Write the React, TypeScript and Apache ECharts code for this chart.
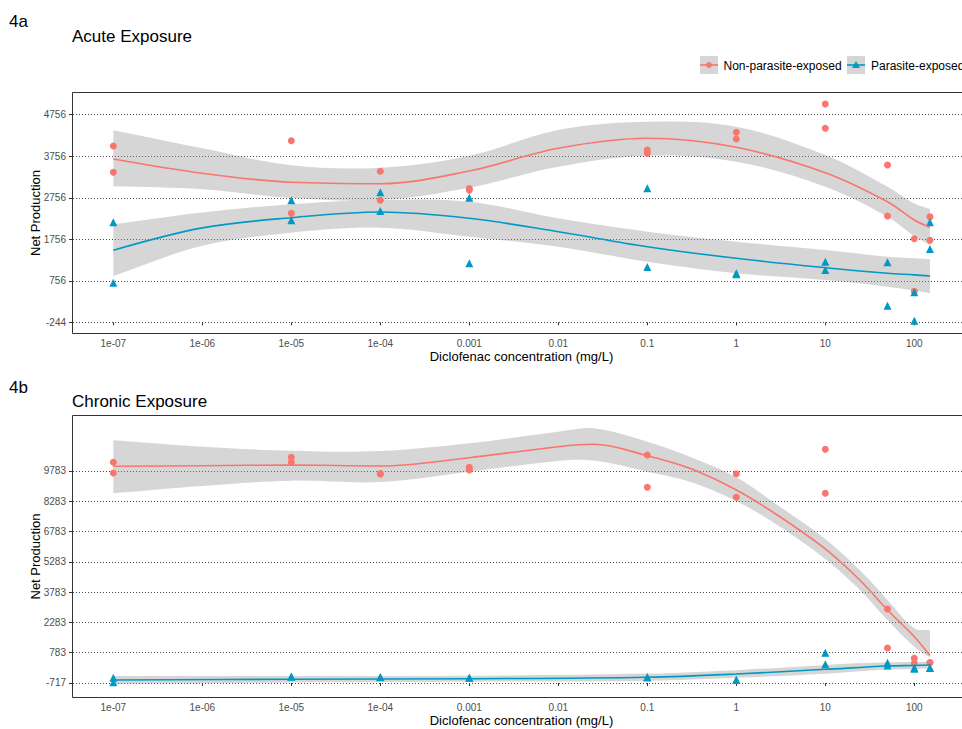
import React, { useEffect, useRef } from "react";
import * as echarts from "echarts";

// ---------- data ----------
const concentrations = [1e-7, 1e-5, 1e-4, 1e-3, 0.1, 1, 10, 50, 100, 150];

const acuteNonParasiteA = [4002, 4130, 3393, 2980, 3906, 4332, 5014, 3545, 1770, 2300];
const acuteNonParasiteB = [3369, 2382, 2695, 2940, 3826, 4171, 4428, 2317, 503, 1732];
const acuteParasiteA = [2165, 2695, 2887, 2757, 2984, 940, 1216, 1202, 480, 2165];
const acuteParasiteB = [711, 2213, 2437, 1178, 1089, 915, 1016, 157, -204, 1522];

const chronicNonParasiteA = [10214, 10462, 9650, 9966, 10575, 9650, 10858, 2948, 506, 288];
const chronicNonParasiteB = [9684, 10214, 9640, 9833, 8975, 8480, 8678, 1016, 258, 300];
const chronicParasiteA = [-454, -405, -420, -454, -420, -569, 783, 288, -9, 26];
const chronicParasiteB = [-683, -400, -430, -460, -440, -560, 209, 150, 40, 30];

// smooth fits
const acuteCurveX = [1e-7, 1e-6, 1e-5, 1e-4, 1e-3, 1e-2, 0.1, 1, 10, 50, 100, 150];
const acuteNonFit = [3689, 3345, 3128, 3094, 3400, 3947, 4188, 3971, 3360, 2661, 2220, 2045];
const acuteNonUpper = [4380, 3947, 3538, 3480, 3769, 4388, 4587, 4467, 3786, 3022, 2620, 2485];
const acuteNonLower = [3032, 2960, 2750, 2702, 2998, 3504, 3769, 3624, 3022, 2300, 1830, 1619];
const acuteParFit = [1491, 2030, 2276, 2413, 2261, 1939, 1578, 1298, 1072, 937, 900, 872];
const acuteParUpper = [2117, 2400, 2598, 2702, 2661, 2261, 1939, 1698, 1498, 1337, 1300, 1274];
const acuteParLower = [872, 1600, 1915, 2035, 1818, 1578, 1216, 937, 776, 615, 520, 455];

const chronicNonX = [1e-7, 1e-6, 1e-5, 1e-4, 1e-3, 1e-2, 0.025, 0.1, 0.3, 1, 3, 10, 25, 50, 100, 150];
const chronicNonFit = [10016, 10046, 10080, 10031, 10442, 10987, 11105, 10541, 9917, 8842, 7554, 5920, 4335, 2898, 1576, 650];
const chronicNonUpper = [11304, 10987, 10788, 10774, 11155, 11730, 11898, 11234, 10491, 9471, 8050, 6420, 4830, 3394, 1992, 1900];
const chronicNonLower = [8678, 9040, 9303, 9238, 9750, 10278, 10300, 9750, 9253, 8297, 7060, 5420, 3840, 2403, 1081, 540];

const chronicParX = [1e-7, 1e-5, 1e-3, 0.1, 1, 10, 50, 100, 150];
const chronicParFit = [-570, -530, -505, -430, -272, -40, 125, 150, 174];
const chronicParUpper = [-370, -370, -355, -250, -82, 180, 305, 320, 339];
const chronicParLower = [-770, -690, -655, -610, -462, -260, -55, -20, 9];

// tick labels
const xTickExponents = [-7, -6, -5, -4, -3, -2, -1, 0, 1, 2];
const xTickLabels = ["1e-07", "1e-06", "1e-05", "1e-04", "0.001", "0.01", "0.1", "1", "10", "100"];
const acuteYTicks = [-244, 756, 1756, 2756, 3756, 4756];
const chronicYTicks = [-717, 783, 2283, 3783, 5283, 6783, 8283, 9783];

const seriesNames = ["Non-parasite-exposed", "Parasite-exposed"];
const panelLabels = ["4a", "4b"];
const panelTitles = ["Acute Exposure", "Chronic Exposure"];
const xTitle = "Diclofenac concentration (mg/L)";
const yTitle = "Net Production";

// ---------- styles / layout ----------
const FONT = '"Liberation Sans", Arial, Helvetica, sans-serif';
const RED = "#F8766D";
const TEAL = "#0099C4";
const BAND = "rgba(153,153,153,0.4)";
const X_MIN_EXP = -7.453;
const X_MAX_EXP = 2.626;
const GRID_LEFT = 73;
const GRID_WIDTH = 897;

function pairs(xs: number[], ys: number[]) {
  return xs.map((x, i) => [x, ys[i]]);
}

function bandSeries(xIdx: number, yIdx: number, xs: number[], upper: number[], lower: number[]) {
  return {
    type: "custom",
    xAxisIndex: xIdx,
    yAxisIndex: yIdx,
    silent: true,
    data: [[xs[0], upper[0]]],
    renderItem: (_params: any, api: any) => {
      const up = xs.map((x, i) => api.coord([x, upper[i]]));
      const lo = xs.map((x, i) => api.coord([x, lower[i]])).reverse();
      const pts: number[][] = [];
      up.forEach((p: number[], i: number) => {
        pts.push(p);
        if (i === 0 || i === up.length - 1) pts.push([p[0], p[1]]);
      });
      lo.forEach((p: number[], i: number) => {
        pts.push(p);
        if (i === 0 || i === lo.length - 1) pts.push([p[0], p[1]]);
      });
      return {
        type: "polygon",
        shape: { points: pts, smooth: 0.35 },
        style: { fill: BAND, stroke: "none" },
      };
    },
  };
}

function lineSeries(xIdx: number, yIdx: number, xs: number[], ys: number[], color: string) {
  return {
    type: "line",
    xAxisIndex: xIdx,
    yAxisIndex: yIdx,
    data: pairs(xs, ys),
    smooth: 0.35,
    showSymbol: false,
    silent: true,
    lineStyle: { color, width: 1.6 },
  };
}

function scatterSeries(xIdx: number, yIdx: number, ysA: number[], ysB: number[], color: string, symbol: string, size: number) {
  return {
    type: "scatter",
    xAxisIndex: xIdx,
    yAxisIndex: yIdx,
    symbol,
    symbolSize: size,
    silent: true,
    itemStyle: { color, opacity: 1 },
    data: [...pairs(concentrations, ysA), ...pairs(concentrations, ysB)],
  };
}

function buildOption() {
  const panels = [
    { top: 93, height: 240, yMin: -501, yMax: 5279, ticks: acuteYTicks, step: 1000, split: 6 },
    { top: 416, height: 281, yMin: -1411, yMax: 12507, ticks: chronicYTicks, step: 1500, split: 9 },
  ];

  const grid: any[] = [];
  const xAxis: any[] = [];
  const yAxis: any[] = [];
  const borders: any[] = [];

  panels.forEach((p, g) => {
    grid.push({
      left: GRID_LEFT,
      top: p.top,
      width: GRID_WIDTH,
      height: p.height,
      show: false,
      outerBoundsMode: "none",
      containLabel: false,
    });
    borders.push({
      type: "rect",
      silent: true,
      z: 100,
      shape: { x: GRID_LEFT - 0.5, y: p.top - 0.5, width: GRID_WIDTH + 1, height: p.height + 1 },
      style: { fill: "none", stroke: "#333", lineWidth: 1 },
    });
    // data axes (hidden)
    xAxis.push({
      gridIndex: g,
      type: "log",
      logBase: 10,
      show: false,
      position: "top",
      min: Math.pow(10, X_MIN_EXP),
      max: Math.pow(10, X_MAX_EXP),
    });
    // tick axes (visible)
    xAxis.push({
      gridIndex: g,
      type: "value",
      position: "bottom",
      min: X_MIN_EXP,
      max: X_MAX_EXP,
      splitNumber: 10,
      name: xTitle,
      nameLocation: "middle",
      nameGap: 17,
      nameMoveOverlap: false,
      nameTextStyle: { fontFamily: FONT, fontSize: 13, color: "#000" },
      axisLine: { show: false },
      axisTick: { show: true, length: 3, lineStyle: { color: "#333" }, customValues: xTickExponents },
      splitLine: { show: false },
      axisLabel: {
        margin: 5,
        fontFamily: FONT,
        fontSize: 10,
        color: "#4d4d4d",
        formatter: (v: number) => {
          const r = Math.round(v);
          if (Math.abs(v - r) > 1e-6) return "";
          const k = xTickExponents.indexOf(r);
          return k >= 0 ? xTickLabels[k] : "";
        },
      },
    });
    yAxis.push({
      gridIndex: g,
      type: "value",
      show: false,
      position: "right",
      min: p.yMin,
      max: p.yMax,
    });
    const ticks = p.ticks;
    const tickIdx = ticks.map((_t, i) => i);
    yAxis.push({
      gridIndex: g,
      type: "value",
      position: "left",
      min: (p.yMin - ticks[0]) / p.step,
      max: (p.yMax - ticks[0]) / p.step,
      splitNumber: p.split,
      name: yTitle,
      nameLocation: "middle",
      nameGap: 31,
      nameMoveOverlap: false,
      nameTextStyle: { fontFamily: FONT, fontSize: 13, color: "#000" },
      axisLine: { show: false },
      axisTick: { show: true, length: 4, lineStyle: { color: "#333" }, customValues: tickIdx },
      splitLine: { show: true, lineStyle: { color: "#444", width: 1, type: [1, 2] } },
      axisLabel: {
        margin: 7,
        fontFamily: FONT,
        fontSize: 10,
        color: "#4d4d4d",
        formatter: (v: number) => {
          const r = Math.round(v);
          if (Math.abs(v - r) > 1e-6) return "";
          return r >= 0 && r < ticks.length ? String(ticks[r]) : "";
        },
      },
    });
  });

  const series: any[] = [
    // panel a
    scatterSeries(0, 0, acuteNonParasiteA, acuteNonParasiteB, RED, "circle", 7),
    scatterSeries(0, 0, acuteParasiteA, acuteParasiteB, TEAL, "triangle", 8),
    bandSeries(0, 0, acuteCurveX, acuteNonUpper, acuteNonLower),
    bandSeries(0, 0, acuteCurveX, acuteParUpper, acuteParLower),
    lineSeries(0, 0, acuteCurveX, acuteNonFit, RED),
    lineSeries(0, 0, acuteCurveX, acuteParFit, TEAL),
    // panel b
    scatterSeries(2, 2, chronicNonParasiteA, chronicNonParasiteB, RED, "circle", 7),
    scatterSeries(2, 2, chronicParasiteA, chronicParasiteB, TEAL, "triangle", 8),
    bandSeries(2, 2, chronicNonX, chronicNonUpper, chronicNonLower),
    bandSeries(2, 2, chronicParX, chronicParUpper, chronicParLower),
    lineSeries(2, 2, chronicNonX, chronicNonFit, RED),
    lineSeries(2, 2, chronicParX, chronicParFit, TEAL),
  ];

  const txt = (text: string, x: number, y: number, size: number) => ({
    type: "text",
    x,
    y,
    silent: true,
    style: { text, fontFamily: FONT, fontSize: size, fill: "#000", verticalAlign: "middle", align: "left" },
  });

  const graphic: any[] = [
    ...borders,
    txt(panelLabels[0], 9, 21.5, 17),
    txt(panelTitles[0], 72, 36, 17),
    txt(panelLabels[1], 9, 387, 17),
    txt(panelTitles[1], 72, 401.5, 17),
    // legend
    { type: "rect", silent: true, shape: { x: 700, y: 56, width: 18, height: 18 }, style: { fill: "#d6d6d6" } },
    { type: "line", silent: true, shape: { x1: 700, y1: 65, x2: 718, y2: 65 }, style: { stroke: RED, lineWidth: 1.6 } },
    { type: "circle", silent: true, shape: { cx: 709, cy: 65, r: 3 }, style: { fill: RED } },
    txt(seriesNames[0], 723.5, 65.5, 12),
    { type: "rect", silent: true, shape: { x: 847, y: 56, width: 18, height: 18 }, style: { fill: "#d6d6d6" } },
    { type: "line", silent: true, shape: { x1: 847, y1: 65, x2: 865, y2: 65 }, style: { stroke: TEAL, lineWidth: 1.6 } },
    { type: "polygon", silent: true, shape: { points: [[856, 61], [860, 68], [852, 68]] }, style: { fill: TEAL } },
    txt(seriesNames[1], 871, 65.5, 12),
  ];

  return {
    animation: false,
    backgroundColor: "#fff",
    textStyle: { fontFamily: FONT },
    grid,
    xAxis,
    yAxis,
    series,
    graphic,
  };
}

export default function App() {
  const ref = useRef<HTMLDivElement>(null);
  useEffect(() => {
    if (!ref.current) return;
    const chart = echarts.init(ref.current, null, { renderer: "svg" });
    chart.setOption(buildOption() as any);
    return () => {
      chart.dispose();
    };
  }, []);
  return (
    <div
      style={{
        position: "fixed",
        left: 0,
        top: 0,
        width: 962,
        height: 729,
        overflow: "hidden",
        background: "#fff",
      }}
    >
      <div ref={ref} style={{ width: 980, height: 729 }} />
    </div>
  );
}
